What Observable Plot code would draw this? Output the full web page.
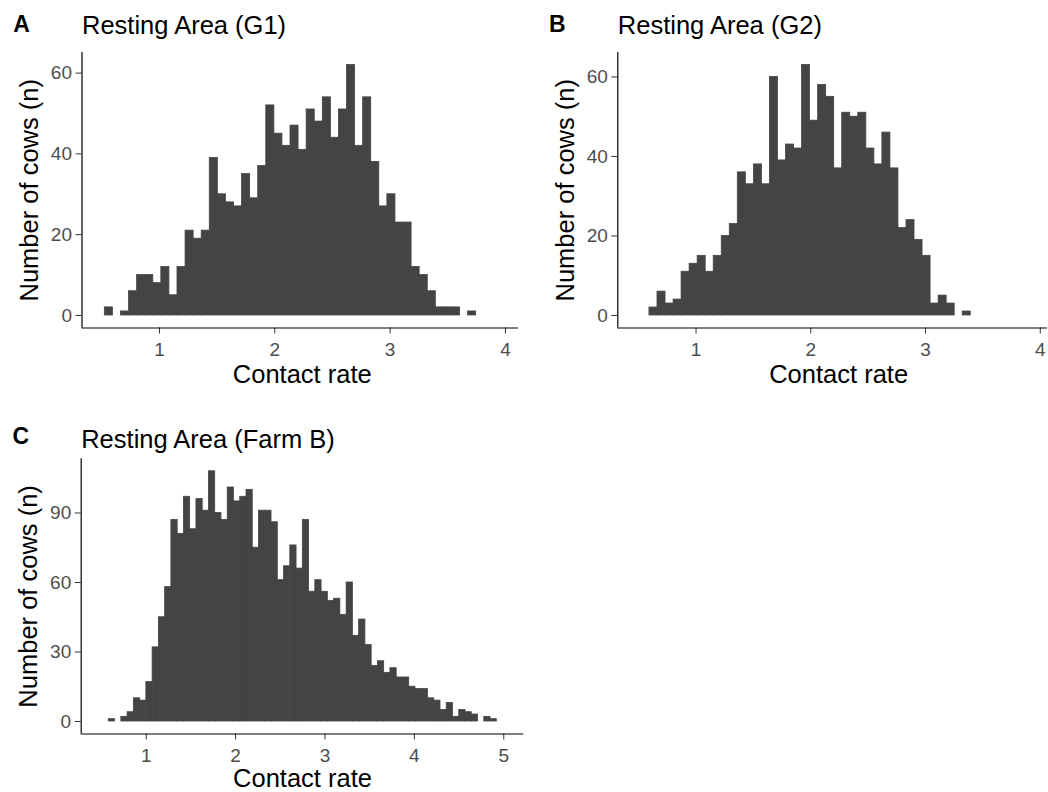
<!DOCTYPE html>
<html><head><meta charset="utf-8">
<script src="https://cdn.jsdelivr.net/npm/d3@7"></script>
<script src="https://cdn.jsdelivr.net/npm/@observablehq/plot@0.6"></script>
<style>
body{margin:0;background:#fff;}
#fig{position:relative;width:1048px;height:792px;overflow:hidden;background:#fff;}
#fig svg{position:absolute;overflow:visible;}
</style></head><body><div id="fig"></div>
<script>
// ---- data: histogram counts per bin (bin width ~0.07 contact-rate units) ----
const countsG1 = [2,0,1,6,10,10,8,12,5,12,21,19,21,39,30,28,27,35,29,37,52,45,42,47,41,51,48,54,44,51,62,42,54,38,27,30,23,23,12,10,6,2,2,2,0,1];
const startG1 = 0.526;
const countsG2 = [2,6,3,4,11,13,15,11,15,20,23,36,33,38,33,60,39,43,42,63,49,58,55,37,51,50,51,42,38,46,37,22,24,19,15,3,5,3,0,1];
const startG2 = 0.594;
const countsFarmB = [1,0,2,4,10,9,17,32,45,58,87,81,97,83,96,91,108,90,87,101,95,97,100,75,91,91,86,61,67,76,66,87,56,61,56,52,53,46,60,37,44,33,24,26,21,23,19,19,15,14,14,10,9,5,8,2,5,4,3,0,2,1];
const startFarmB = 0.582;
const binWidth = 0.07;

const panelLetters = ["A", "B", "C"];
const panelTitles = ["Resting Area (G1)", "Resting Area (G2)", "Resting Area (Farm B)"];
const xLabel = "Contact rate";
const yLabel = "Number of cows (n)";
const xTicksAB = [1, 2, 3, 4];
const xTicksC = [1, 2, 3, 4, 5];
const yTicksAB = [0, 20, 40, 60];
const yTicksC = [0, 30, 60, 90];

function bins(counts, start) {
  return counts.map((n, i) => ({x1: start + i * binWidth, x2: start + (i + 1) * binWidth, n}))
               .filter(d => d.n > 0);
}

const FONT = "'Liberation Sans', Arial, sans-serif";
const BAR = "#444444";
const fmt = d => String(d);

function panel(cfg) {
  const p = Plot.plot({
    width: cfg.width, height: cfg.height,
    marginLeft: cfg.ml, marginRight: cfg.mr, marginTop: cfg.mt, marginBottom: cfg.mb,
    style: {fontFamily: FONT, background: "transparent", overflow: "visible"},
    x: {domain: cfg.xd},
    y: {domain: cfg.yd},
    marks: [
      Plot.rectY(bins(cfg.counts, cfg.start), {x1: "x1", x2: "x2", y: "n", fill: BAR, stroke: BAR, strokeWidth: 0.8, inset: 0}),
      Plot.axisX({ticks: cfg.xt, tickFormat: fmt, tickSize: 6, tickPadding: 8, fontSize: 19, fill: "#4d4d4d", stroke: "#333333", label: null}),
      Plot.axisY({ticks: cfg.yt, tickFormat: fmt, tickSize: 6, tickPadding: 4, fontSize: 19, fill: "#4d4d4d", stroke: "#333333", label: null}),
      Plot.ruleX([cfg.xd[0]], {stroke: "black", strokeWidth: 1.2}),
      Plot.ruleY([cfg.yd[0]], {stroke: "black", strokeWidth: 1.2}),
      Plot.text([cfg.title], {text: d => d, frameAnchor: "top-left", textAnchor: "start", lineAnchor: "middle", dy: cfg.titleDy, fontSize: 25.5, fill: "black"}),
      Plot.text([cfg.letter], {text: d => d, frameAnchor: "top-left", textAnchor: "middle", lineAnchor: "middle", dx: -60.5, dy: cfg.letterDy, fontSize: 23, fontWeight: "bold", fill: "black"}),
      Plot.text([xLabel], {text: d => d, frameAnchor: "bottom", textAnchor: "middle", lineAnchor: "middle", dx: cfg.xlDx, dy: cfg.xlDy, fontSize: 25.5, fill: "black"}),
      Plot.text([yLabel], {text: d => d, frameAnchor: "left", textAnchor: "middle", lineAnchor: "middle", rotate: -90, dx: -52, fontSize: 25.5, fill: "black"})
    ]
  });
  p.style.left = cfg.left + "px";
  p.style.top = cfg.top + "px";
  document.getElementById("fig").appendChild(p);
}

panel({left: 0, top: 0, width: 524, height: 396, ml: 81.5, mr: 6, mt: 52, mb: 68.5,
  xd: [0.328, 4.113], yd: [-3.1, 65.1], counts: countsG1, start: startG1,
  xt: xTicksAB, yt: yTicksAB, title: panelTitles[0], letter: panelLetters[0], titleDy: -26.2, letterDy: -27.8, xlDx: 2, xlDy: 46.5});
panel({left: 524, top: 0, width: 524, height: 396, ml: 93.3, mr: 1, mt: 52, mb: 68.5,
  xd: [0.318, 4.063], yd: [-3.15, 66.15], counts: countsG2, start: startG2,
  xt: xTicksAB, yt: yTicksAB, title: panelTitles[1], letter: panelLetters[1], titleDy: -26.2, letterDy: -27.8, xlDx: 6, xlDy: 46.5});
panel({left: 0, top: 400, width: 530, height: 392, ml: 80.7, mr: 6.7, mt: 58.3, mb: 58.5,
  xd: [0.273, 5.224], yd: [-5.4, 113.4], counts: countsFarmB, start: startFarmB,
  xt: xTicksC, yt: yTicksC, title: panelTitles[2], letter: panelLetters[2], titleDy: -19.1, letterDy: -21.7, xlDx: 0, xlDy: 44.5});
</script></body></html>
